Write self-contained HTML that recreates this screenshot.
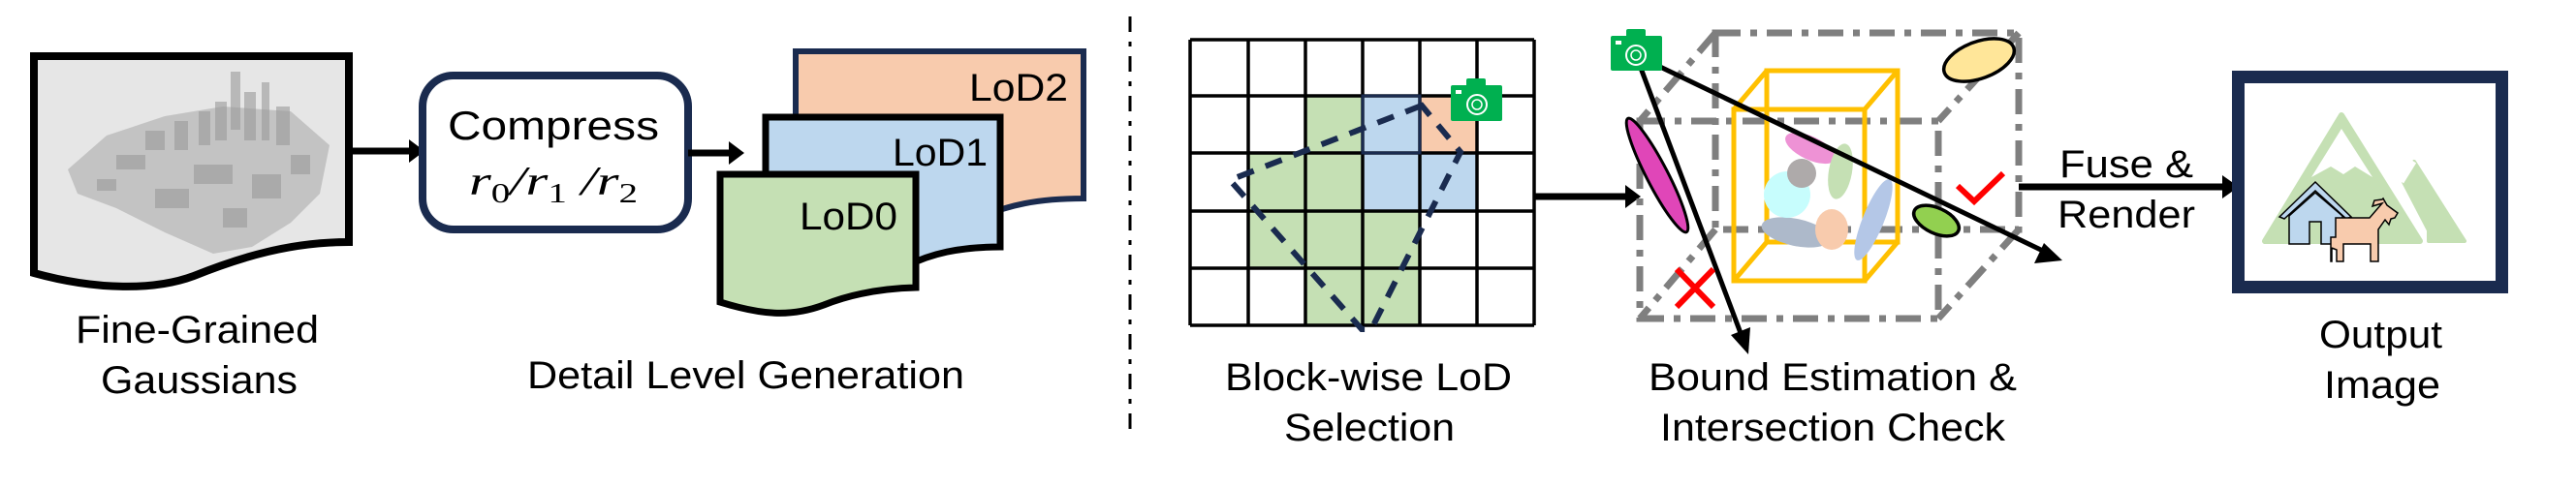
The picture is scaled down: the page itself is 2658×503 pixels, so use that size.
<!DOCTYPE html>
<html><head><meta charset="utf-8"><style>
html,body{margin:0;padding:0;background:#fff;}
svg{display:block;}
text{font-family:"Liberation Sans",Arial,sans-serif;fill:#000;}
</style></head><body>
<svg width="2658" height="503" viewBox="0 0 2658 503" xmlns="http://www.w3.org/2000/svg">

<!-- Fine-grained doc -->
<path d="M35,58 H360 V250 C300,250 250,265 200,285 C160,300 100,300 35,282 Z" fill="#e6e6e6" stroke="#000" stroke-width="8"/>
<g fill="#b3b3b3" opacity="0.7">
<path d="M70,175 L110,140 L170,120 L230,110 L300,115 L340,150 L330,200 L300,230 L260,255 L220,262 L170,240 L120,215 L80,200 Z"/>
</g>
<g fill="#9a9a9a" opacity="0.6">
<rect x="238" y="74" width="10" height="60"/><rect x="252" y="95" width="12" height="50"/><rect x="270" y="85" width="8" height="60"/>
<rect x="222" y="105" width="12" height="40"/><rect x="205" y="115" width="12" height="35"/><rect x="285" y="110" width="14" height="40"/>
<rect x="150" y="135" width="20" height="20"/><rect x="180" y="125" width="14" height="30"/><rect x="120" y="160" width="30" height="15"/>
<rect x="200" y="170" width="40" height="20"/><rect x="260" y="180" width="30" height="25"/><rect x="160" y="195" width="35" height="20"/>
<rect x="100" y="185" width="20" height="12"/><rect x="300" y="160" width="20" height="20"/><rect x="230" y="215" width="25" height="20"/>
</g>
<path d="M360,156 H425" stroke="#000" stroke-width="7"/>
<path d="M422,144 L438,156 L422,168 Z" fill="#000"/>

<!-- Compress box -->
<rect x="436" y="78" width="274" height="159" rx="32" ry="32" fill="#fff" stroke="#1a2b4f" stroke-width="8"/>
<text x="462" y="144" font-size="42" textLength="218" lengthAdjust="spacingAndGlyphs">Compress</text>
<text x="484" y="201" font-size="42" style="font-family:'Liberation Serif',serif" font-style="italic" textLength="174" lengthAdjust="spacingAndGlyphs">r<tspan font-size="28" font-style="normal" dy="8">0</tspan><tspan dy="-8">/r</tspan><tspan font-size="28" font-style="normal" dy="8">1</tspan><tspan dy="-8"> /r</tspan><tspan font-size="28" font-style="normal" dy="8">2</tspan></text>
<path d="M710,158 H755" stroke="#000" stroke-width="7"/>
<path d="M752,146 L768,158 L752,170 Z" fill="#000"/>

<!-- LoD docs -->
<path d="M821,53 H1118 V205 C1070,205 1040,212 1010,225 C970,240 930,245 821,235 Z" fill="#f8cbad" stroke="#1a2b4f" stroke-width="6"/>
<text x="1000" y="104" font-size="40" textLength="102" lengthAdjust="spacingAndGlyphs">LoD2</text>
<path d="M790,121 H1032 V255 C990,255 960,262 935,275 C900,292 860,295 790,285 Z" fill="#bdd7ee" stroke="#000" stroke-width="7"/>
<text x="921" y="171" font-size="40" textLength="98" lengthAdjust="spacingAndGlyphs">LoD1</text>
<path d="M743,180 H945 V297 C905,298 875,305 850,315 C815,328 785,325 743,312 Z" fill="#c5e0b4" stroke="#000" stroke-width="7"/>
<text x="825" y="237" font-size="40" textLength="101" lengthAdjust="spacingAndGlyphs">LoD0</text>

<text x="78" y="354" font-size="40" textLength="251" lengthAdjust="spacingAndGlyphs">Fine-Grained</text>
<text x="104" y="406" font-size="40" textLength="203" lengthAdjust="spacingAndGlyphs">Gaussians</text>
<text x="544" y="401" font-size="40" textLength="451" lengthAdjust="spacingAndGlyphs">Detail Level Generation</text>

<!-- divider -->
<path d="M1166,17 V451" stroke="#000" stroke-width="3" stroke-dasharray="16 10 5 10"/>

<!-- grid -->
<g>
<rect x="1347" y="99" width="59" height="59" fill="#c5e0b4"/>
<rect x="1406" y="99" width="59" height="59" fill="#bdd7ee"/>
<rect x="1465" y="99" width="59" height="59" fill="#f8cbad"/>
<rect x="1288" y="158" width="118" height="60" fill="#c5e0b4"/>
<rect x="1406" y="158" width="118" height="60" fill="#bdd7ee"/>
<rect x="1288" y="218" width="177" height="59" fill="#c5e0b4"/>
<rect x="1347" y="277" width="118" height="59" fill="#c5e0b4"/>
<g stroke="#000" stroke-width="3.5">
<path d="M1228,41 H1583 M1228,99 H1583 M1228,158 H1583 M1228,218 H1583 M1228,277 H1583 M1228,336 H1583"/>
<path d="M1228,41 V336 M1288,41 V336 M1347,41 V336 M1406,41 V336 M1465,41 V336 M1524,41 V336 M1583,41 V336"/>
</g>
<rect x="1406" y="99" width="59" height="59" fill="none" stroke="#1a2b4f" stroke-width="3"/>
</g>
<path d="M1467,109 L1269,186 L1405,340 L1415,340 L1507,157 Z" fill="none" stroke="#1a2b4f" stroke-width="6" stroke-dasharray="18 13"/>
<g>
<rect x="1497" y="88" width="53" height="37" rx="2" fill="#00b050"/>
<rect x="1513" y="81" width="20" height="9" rx="2" fill="#00b050"/>
<circle cx="1524" cy="108" r="10" fill="none" stroke="#fff" stroke-width="2"/>
<circle cx="1524" cy="108" r="5" fill="none" stroke="#fff" stroke-width="1.5"/>
<rect x="1502" y="93" width="6" height="4" fill="#fff"/>
</g>
<path d="M1583,203 H1680" stroke="#000" stroke-width="7"/>
<path d="M1677,191 L1693,203 L1677,215 Z" fill="#000"/>

<!-- bound boxes -->
<g fill="none" stroke="#7f7f7f" stroke-width="7" stroke-dasharray="26 10 7 10">
<rect x="1770" y="34" width="313" height="203"/>
<rect x="1692" y="125" width="308" height="204"/>
<path d="M1770,34 L1692,125 M2083,34 L2000,125 M2083,237 L2000,329 M1770,237 L1692,329"/>
</g>
<g fill="none" stroke="#ffc000" stroke-width="5">
<rect x="1823" y="73" width="135" height="177"/>
<rect x="1789" y="113" width="135" height="177"/>
<path d="M1789,113 L1823,73 M1924,113 L1958,73 M1924,290 L1958,250 M1789,290 L1823,250"/>
</g>
<ellipse cx="1853" cy="240" rx="36" ry="14" transform="rotate(12 1853 240)" fill="#adb9ca"/>
<ellipse cx="1868" cy="153" rx="28" ry="12" transform="rotate(25 1868 153)" fill="#ee92d5"/>
<circle cx="1844" cy="201" r="24" fill="#c7fdfd"/>
<circle cx="1859" cy="179" r="15" fill="#aeaaaa"/>
<ellipse cx="1899" cy="177" rx="29" ry="12" transform="rotate(-80 1899 177)" fill="#c5e0b4"/>
<ellipse cx="1890" cy="237" rx="17" ry="21" fill="#f8cbad"/>
<ellipse cx="1933" cy="227" rx="45" ry="11" transform="rotate(-68 1933 227)" fill="#b4c7e7"/>
<ellipse cx="1710" cy="181" rx="66" ry="11" transform="rotate(62.7 1710 181)" fill="#e046b8" stroke="#000" stroke-width="3"/>
<ellipse cx="2042" cy="62" rx="38" ry="19" transform="rotate(-20 2042 62)" fill="#ffe699" stroke="#000" stroke-width="3.5"/>
<ellipse cx="1998" cy="228" rx="25" ry="13" transform="rotate(25 1998 228)" fill="#92d050" stroke="#000" stroke-width="3.5"/>
<path d="M1688,57 L2112,261" stroke="#000" stroke-width="5"/>
<path d="M2128,269 L2099,272 L2109,251 Z" fill="#000"/>
<path d="M1688,57 L1799,352" stroke="#000" stroke-width="5"/>
<path d="M1804,366 L1786,346 L1806,338 Z" fill="#000"/>
<g>
<rect x="1662" y="37" width="53" height="36" rx="2" fill="#00b050"/>
<rect x="1678" y="30" width="20" height="9" rx="2" fill="#00b050"/>
<circle cx="1688" cy="57" r="10" fill="none" stroke="#fff" stroke-width="2"/>
<circle cx="1688" cy="57" r="5" fill="none" stroke="#fff" stroke-width="1.5"/>
<rect x="1667" y="42" width="6" height="4" fill="#fff"/>
</g>
<path d="M2020,192 L2037,208 L2067,179" fill="none" stroke="#ff0000" stroke-width="6"/>
<path d="M1730,278 L1768,317 M1768,278 L1730,317" stroke="#ff0000" stroke-width="6"/>

<path d="M2083,193 H2295" stroke="#000" stroke-width="7"/>
<path d="M2293,181 L2310,193 L2293,205 Z" fill="#000"/>
<text x="2125" y="183" font-size="40" textLength="138" lengthAdjust="spacingAndGlyphs">Fuse &amp;</text>
<text x="2123" y="235" font-size="40" textLength="142" lengthAdjust="spacingAndGlyphs">Render</text>

<rect x="2309.5" y="79.5" width="272" height="217" fill="#fff" stroke="#1a2b4f" stroke-width="13"/>
<path d="M2416,119 L2337,249 L2497,249 Z" fill="#c5e0b4" stroke="#c5e0b4" stroke-width="6" stroke-linejoin="round"/>
<path d="M2416,133 L2385,183 L2405,172 L2418,180 L2430,172 L2448,183 Z" fill="#fff"/>
<path d="M2480,188 L2491,167 L2543,249 L2506,249 L2506,238 Z" fill="#c5e0b4" stroke="#c5e0b4" stroke-width="4" stroke-linejoin="round"/>
<path d="M2491,167 L2478,188" stroke="#fff" stroke-width="5"/>
<path d="M2352,224 L2389,188 L2426,224 L2421,226 L2389,197 L2357,226 Z" fill="#bdd7ee" stroke="#000" stroke-width="1.5"/>
<path d="M2362,223 L2389,199 L2417,223 V252 H2395 V229 H2383 V252 H2362 Z" fill="#bdd7ee" stroke="#000" stroke-width="1.5"/>
<path d="M2410,225 H2445 L2458,210 L2448,213 L2450,207 L2458,206 L2459,205 L2463,212 L2474,220 L2471,225 L2467,226 L2465,232 L2461,227 L2454,237 V270 H2446 V252 H2418 V270 H2411 V258 L2406,256 V270 H2405 V245 H2410 Z" fill="#f8cbad" stroke="#000" stroke-width="1.5"/>

<text x="1264" y="403" font-size="40" textLength="296" lengthAdjust="spacingAndGlyphs">Block-wise LoD</text>
<text x="1325" y="455" font-size="40" textLength="176" lengthAdjust="spacingAndGlyphs">Selection</text>
<text x="1701" y="403" font-size="40" textLength="380" lengthAdjust="spacingAndGlyphs">Bound Estimation &amp;</text>
<text x="1713" y="455" font-size="40" textLength="356" lengthAdjust="spacingAndGlyphs">Intersection Check</text>
<text x="2393" y="359" font-size="40" textLength="127" lengthAdjust="spacingAndGlyphs">Output</text>
<text x="2398" y="411" font-size="40" textLength="120" lengthAdjust="spacingAndGlyphs">Image</text>
</svg>
</body></html>
